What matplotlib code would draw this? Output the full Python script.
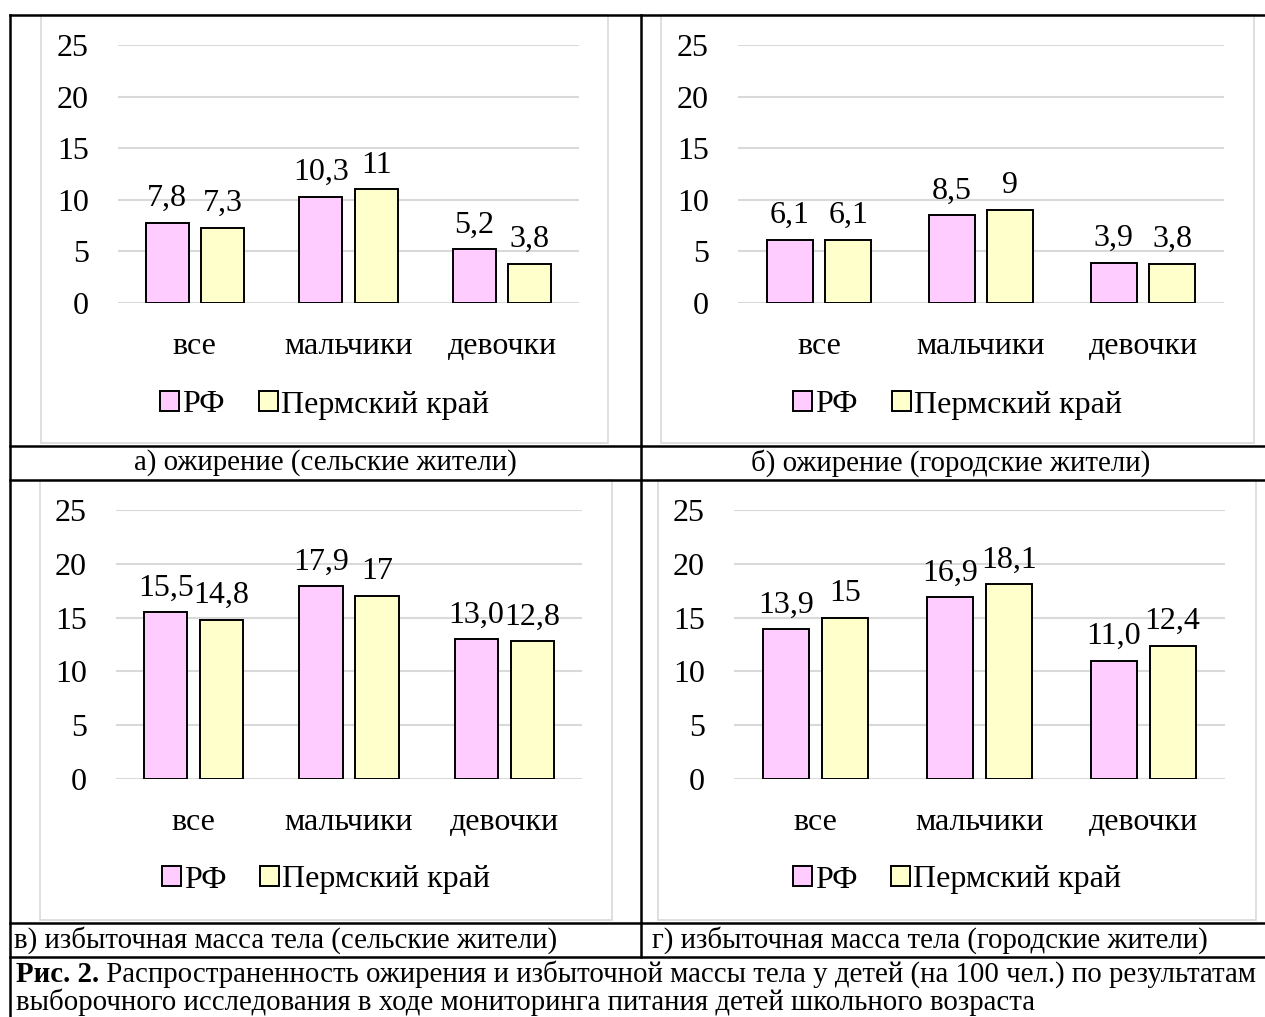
import matplotlib
matplotlib.use("Agg")
import matplotlib.pyplot as plt
from matplotlib.lines import Line2D
from matplotlib.patches import Rectangle

plt.rcParams['font.family'] = ['Liberation Serif', 'DejaVu Serif']

categories = ['все', 'мальчики', 'девочки']
series_names = ['РФ', 'Пермский край']

rural_obesity_rf = [7.8, 10.3, 5.2]
rural_obesity_perm = [7.3, 11, 3.8]
rural_obesity_rf_lbl = ['7,8', '10,3', '5,2']
rural_obesity_perm_lbl = ['7,3', '11', '3,8']

urban_obesity_rf = [6.1, 8.5, 3.9]
urban_obesity_perm = [6.1, 9, 3.8]
urban_obesity_rf_lbl = ['6,1', '8,5', '3,9']
urban_obesity_perm_lbl = ['6,1', '9', '3,8']

rural_overweight_rf = [15.5, 17.9, 13.0]
rural_overweight_perm = [14.8, 17, 12.8]
rural_overweight_rf_lbl = ['15,5', '17,9', '13,0']
rural_overweight_perm_lbl = ['14,8', '17', '12,8']

urban_overweight_rf = [13.9, 16.9, 11.0]
urban_overweight_perm = [15, 18.1, 12.4]
urban_overweight_rf_lbl = ['13,9', '16,9', '11,0']
urban_overweight_perm_lbl = ['15', '18,1', '12,4']

panel_titles = ['а) ожирение (сельские жители)',
                'б) ожирение (городские жители)',
                'в) избыточная масса тела (сельские жители)',
                'г) избыточная масса тела (городские жители)']
fig_caption_bold = 'Рис. 2.'
fig_caption_1 = ' Распространенность ожирения и избыточной массы тела у детей (на 100 чел.) по результатам'
fig_caption_2 = 'выборочного исследования в ходе мониторинга питания детей школьного возраста'

W, H = 1265, 1017
fig = plt.figure(figsize=(W / 100, H / 100), dpi=100)

RF_COLOR = '#FFCCFF'
PERM_COLOR = '#FFFFCC'
GRID = '#d9d9d9'
FS = 23


def add_px_axes(x0, y0, x1, y1):
    return fig.add_axes([x0 / W, 1 - y1 / H, (x1 - x0) / W, (y1 - y0) / H])


def hline(y, x0=10, x1=1265):
    fig.add_artist(Line2D([x0 / W, x1 / W], [1 - y / H, 1 - y / H], color='black', lw=1.8))


def vline(x, y0, y1):
    fig.add_artist(Line2D([x / W, x / W], [1 - y0 / H, 1 - y1 / H], color='black', lw=1.8))


def frame(x0, y0, x1, y1):
    fig.add_artist(Rectangle((x0 / W, 1 - y1 / H), (x1 - x0) / W, (y1 - y0) / H,
                             fill=False, edgecolor=GRID, lw=1.2))


def draw_panel(plot_box, frame_box, legend_y, rf, perm, rf_lbl, perm_lbl):
    frame(*frame_box)
    ax = add_px_axes(*plot_box)
    xs = range(len(categories))
    w = 0.28
    off = 0.18
    b1 = ax.bar([x - off for x in xs], rf, w, color=RF_COLOR, edgecolor='black', lw=1.4,
                label=series_names[0], zorder=3)
    b2 = ax.bar([x + off for x in xs], perm, w, color=PERM_COLOR, edgecolor='black', lw=1.4,
                label=series_names[1], zorder=3)
    ax.bar_label(b1, labels=rf_lbl, padding=7, fontsize=FS)
    ax.bar_label(b2, labels=perm_lbl, padding=7, fontsize=FS)
    ax.set_xlim(-0.5, 2.5)
    ax.set_ylim(0, 25)
    ax.set_yticks(range(0, 26, 5))
    ax.set_xticks(list(xs))
    ax.set_xticklabels(categories)
    ax.tick_params(axis='y', length=0, pad=21, labelsize=FS)
    ax.tick_params(axis='x', length=0, pad=21, labelsize=FS)
    ax.grid(axis='y', color=GRID, lw=1.5)
    ax.set_axisbelow(True)
    for s in ax.spines.values():
        s.set_visible(False)
    ax.patch.set_alpha(0)
    cx = (frame_box[0] + frame_box[2]) / 2
    ax.legend(loc='center', bbox_to_anchor=(cx / W, 1 - legend_y / H),
              bbox_transform=fig.transFigure, ncol=2, frameon=False, fontsize=FS,
              handlelength=0.6, handleheight=0.6, handletextpad=0.1, columnspacing=1.05,
              borderpad=0)


draw_panel((118, 45, 579, 303), (41, 15, 608, 443), 405,
           rural_obesity_rf, rural_obesity_perm, rural_obesity_rf_lbl, rural_obesity_perm_lbl)
draw_panel((738, 45, 1224, 303), (661, 15, 1254, 443), 405,
           urban_obesity_rf, urban_obesity_perm, urban_obesity_rf_lbl, urban_obesity_perm_lbl)
draw_panel((116, 510, 582, 779), (40, 480, 612, 920), 880,
           rural_overweight_rf, rural_overweight_perm, rural_overweight_rf_lbl, rural_overweight_perm_lbl)
draw_panel((734, 510, 1225, 779), (658, 480, 1256, 920), 880,
           urban_overweight_rf, urban_overweight_perm, urban_overweight_rf_lbl, urban_overweight_perm_lbl)

# table grid
hline(15)
hline(446)
hline(480)
hline(923)
hline(957)
vline(10, 15, 1017)
vline(641, 15, 957)

CAP = 20.8
fig.text(325 / W, 1 - 463 / H, panel_titles[0], ha='center', va='center', fontsize=CAP)
fig.text(951 / W, 1 - 463 / H, panel_titles[1], ha='center', va='center', fontsize=CAP)
fig.text(14 / W, 1 - 940 / H, panel_titles[2], ha='left', va='center', fontsize=CAP)
fig.text(652 / W, 1 - 940 / H, panel_titles[3], ha='left', va='center', fontsize=CAP)

# figure caption: bold prefix then regular text
FC = 20.8
t_bold = fig.text(16 / W, 1 - 974 / H, fig_caption_bold, ha='left', va='center',
                  fontsize=FC, fontweight='bold')
fig.canvas.draw()
bb = t_bold.get_window_extent()
fig.text(bb.x1 / W, 1 - 974 / H, fig_caption_1, ha='left', va='center', fontsize=FC)
fig.text(16 / W, 1 - 1002 / H, fig_caption_2, ha='left', va='center', fontsize=FC)

fig.savefig('out.png', dpi=100)
